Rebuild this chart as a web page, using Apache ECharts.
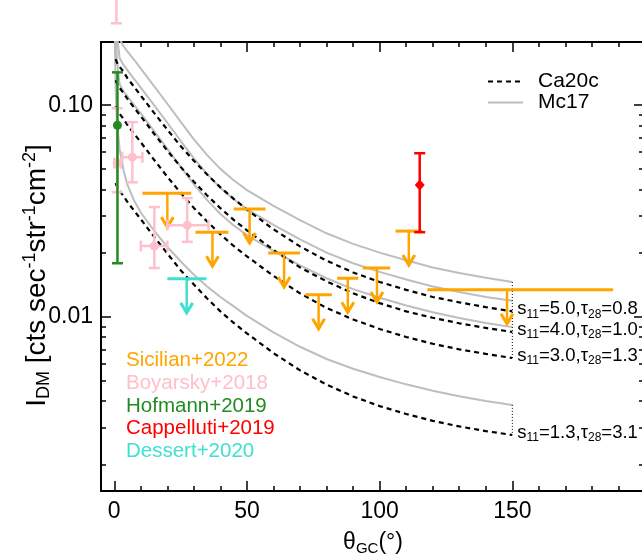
<!DOCTYPE html>
<html>
<head>
<meta charset="UTF-8">
<title>I_DM vs theta_GC</title>
<script src="https://cdn.jsdelivr.net/npm/echarts@6/dist/echarts.min.js"></script>
</head>
<body style="margin:0;background:#ffffff">
<div id="main" style="width:642px;height:555px;"></div>
<script>
var FONT = 'Liberation Sans, Arial, sans-serif';

// model curves (theta in deg, intensity)
var mcTheta = [0.2, 0.5, 1, 2, 3.5, 5, 7.5, 10, 15, 20, 25, 30, 35, 40, 45, 50, 60, 70, 80, 90, 100, 110, 120, 130, 140, 150];
var mc1 = [0.731, 0.384, 0.265, 0.206, 0.190, 0.179, 0.164, 0.149, 0.123, 0.1016, 0.0836, 0.0690, 0.0581, 0.0500, 0.0442, 0.0397, 0.0334, 0.0286, 0.0248, 0.0221, 0.0201, 0.0185, 0.0171, 0.0161, 0.0153, 0.0146];
var mc2 = [0.594, 0.312, 0.216, 0.167, 0.155, 0.146, 0.133, 0.121, 0.1002, 0.0826, 0.0679, 0.0561, 0.0472, 0.0406, 0.0359, 0.0323, 0.0272, 0.0232, 0.0201, 0.0179, 0.0163, 0.0150, 0.0139, 0.0131, 0.0124, 0.0119];
var mc3 = [0.448, 0.235, 0.163, 0.126, 0.116, 0.110, 0.1002, 0.0914, 0.0755, 0.0622, 0.0512, 0.0423, 0.0356, 0.0306, 0.0270, 0.0243, 0.0205, 0.0175, 0.0152, 0.0135, 0.0123, 0.0113, 0.0105, 0.00986, 0.00935, 0.00893];
var mc4 = [0.215, 0.121, 0.0838, 0.0621, 0.0493, 0.0420, 0.0353, 0.0311, 0.0255, 0.0214, 0.0183, 0.0158, 0.0139, 0.0124, 0.0112, 0.0101, 0.00843, 0.00721, 0.00631, 0.00568, 0.00519, 0.00479, 0.00447, 0.00421, 0.00400, 0.00383];

var caTheta = [0.5, 1, 2, 3.5, 5, 7.5, 10, 15, 20, 25, 30, 35, 40, 45, 50, 60, 70, 80, 90, 100, 110, 120, 130, 140, 150];
var ca1 = [0.165, 0.159, 0.152, 0.144, 0.134, 0.122, 0.111, 0.0920, 0.0766, 0.0641, 0.0546, 0.0470, 0.0409, 0.0361, 0.0321, 0.0259, 0.0215, 0.0184, 0.0162, 0.0146, 0.0134, 0.0124, 0.0117, 0.0111, 0.0106];
var ca2 = [0.131, 0.127, 0.121, 0.114, 0.107, 0.0973, 0.0887, 0.0733, 0.0610, 0.0511, 0.0435, 0.0374, 0.0326, 0.0287, 0.0256, 0.0207, 0.0171, 0.0147, 0.0129, 0.0116, 0.0106, 0.00989, 0.00931, 0.00885, 0.00847];
var ca3 = [0.0989, 0.0955, 0.0912, 0.0861, 0.0804, 0.0733, 0.0668, 0.0552, 0.0459, 0.0385, 0.0327, 0.0282, 0.0245, 0.0216, 0.0193, 0.0156, 0.0129, 0.0110, 0.00971, 0.00875, 0.00802, 0.00745, 0.00701, 0.00667, 0.00638];
var ca4 = [0.0428, 0.0413, 0.0394, 0.0372, 0.0348, 0.0317, 0.0289, 0.0239, 0.0199, 0.0166, 0.0142, 0.0122, 0.0106, 0.00935, 0.00834, 0.00673, 0.00558, 0.00478, 0.00420, 0.00378, 0.00347, 0.00322, 0.00303, 0.00288, 0.00276];
var caS11 = ['5.0', '4.0', '3.0', '1.3'];
var caTau28 = ['0.8', '1.0', '1.3', '3.1'];

// Sicilian+2022 upper limits
var sicTheta = [20, 37, 51, 64, 77, 88, 99, 111, 148];
var sicLo = [10.6, 30.6, 45, 58, 72, 84, 93.6, 106, 118];
var sicHi = [29, 43, 57, 70, 82, 92, 104, 116, 188];
var sicUL = [0.0384, 0.0251, 0.0323, 0.0200, 0.0127, 0.0152, 0.0170, 0.0254, 0.0134];

// Boyarsky+2018: theta, I, I_lo, I_hi, theta_lo, theta_hi
var boyTheta = [0.8, 1.1, 6.8, 15.1, 27.5];
var boyI = [0.40, 0.0532, 0.0568, 0.0216, 0.0271];
var boyILo = [0.244, 0.0388, 0.0432, 0.0170, 0.0226];
var boyIHi = [0.60, 0.0968, 0.0832, 0.0330, 0.0364];
var boyTLo = [0.8, 0, 3, 10, 20];
var boyTHi = [0.8, 2.5, 10.6, 20, 35.5];

// Hofmann+2019
var hofTheta = [1.2], hofI = [0.0804], hofILo = [0.0179], hofIHi = [0.143];
// Cappelluti+2019
var capTheta = [115.1], capI = [0.0419], capILo = [0.0251], capIHi = [0.0593];
// Dessert+2020 upper limit
var desTheta = [27.3], desLo = [20], desHi = [34.7], desUL = [0.0151];

var xMajor = [0, 50, 100, 150, 200];
var xLabels = [0, 50, 100, 150];
var xMinor = [10, 20, 30, 40, 60, 70, 80, 90, 110, 120, 130, 140, 160, 170, 180, 190];
var yMajor = [0.01, 0.1];
var yMinor = [0.002, 0.003, 0.004, 0.005, 0.006, 0.007, 0.008, 0.009, 0.02, 0.03, 0.04, 0.05, 0.06, 0.07, 0.08, 0.09];

var dataNames = ['Sicilian+2022', 'Boyarsky+2018', 'Hofmann+2019', 'Cappelluti+2019', 'Dessert+2020'];
var dataColors = ['#FFA500', '#FFC0CB', '#228B22', '#FF0000', '#40E0D0'];

var X_MIN = -5, X_MAX = 200, Y_MIN = 0.0015, Y_MAX = 0.199;

function zip(xs, ys) { return xs.map(function (x, i) { return [x, ys[i]]; }); }

function limitItem(color) {
  return function (params, api) {
    var c = api.coord([api.value(0), api.value(3)]);
    var a = api.coord([api.value(1), api.value(3)]);
    var b = api.coord([api.value(2), api.value(3)]);
    var tip = c[1] + 34;
    return {
      type: 'group',
      children: [
        { type: 'line', shape: { x1: a[0], y1: a[1], x2: b[0], y2: b[1] }, style: { stroke: color, lineWidth: 3 } },
        { type: 'line', shape: { x1: c[0], y1: c[1], x2: c[0], y2: tip - 1 }, style: { stroke: color, lineWidth: 2.5 } },
        { type: 'polyline', shape: { points: [[c[0] - 6, tip - 10], [c[0], tip], [c[0] + 6, tip - 10]] },
          style: { stroke: color, lineWidth: 3, fill: null } }
      ]
    };
  };
}

function errItem(color, marker) {
  return function (params, api) {
    var x = api.value(0), y = api.value(1);
    var p = api.coord([x, y]);
    var lo = api.coord([x, api.value(2)]), hi = api.coord([x, api.value(3)]);
    var l = api.coord([api.value(4), y]), r = api.coord([api.value(5), y]);
    var s = { stroke: color, lineWidth: 2.5 };
    var cap = 5.5;
    var kids = [
      { type: 'line', shape: { x1: p[0], y1: lo[1], x2: p[0], y2: hi[1] }, style: s },
      { type: 'line', shape: { x1: p[0] - cap, y1: lo[1], x2: p[0] + cap, y2: lo[1] }, style: s },
      { type: 'line', shape: { x1: p[0] - cap, y1: hi[1], x2: p[0] + cap, y2: hi[1] }, style: s }
    ];
    if (r[0] - l[0] > 1) {
      kids.push(
        { type: 'line', shape: { x1: l[0], y1: p[1], x2: r[0], y2: p[1] }, style: s },
        { type: 'line', shape: { x1: l[0], y1: p[1] - cap, x2: l[0], y2: p[1] + cap }, style: s },
        { type: 'line', shape: { x1: r[0], y1: p[1] - cap, x2: r[0], y2: p[1] + cap }, style: s });
    }
    if (marker === 'diamond') {
      kids.push({ type: 'polygon', shape: { points: [[p[0], p[1] - 5.5], [p[0] + 5, p[1]], [p[0], p[1] + 5.5], [p[0] - 5, p[1]]] }, style: { fill: color } });
    } else {
      kids.push({ type: 'circle', shape: { cx: p[0], cy: p[1], r: 4.5 }, style: { fill: color } });
    }
    return { type: 'group', children: kids };
  };
}

function errData(t, v, vlo, vhi, tlo, thi) {
  return t.map(function (x, i) {
    return [x, v[i], vlo[i], vhi[i], tlo ? tlo[i] : x, thi ? thi[i] : x];
  });
}

function xAxisDef(pos, ticks, len, withLine, withLabels) {
  var ax = {
    type: 'value', min: X_MIN, max: X_MAX, position: pos,
    axisLine: { show: withLine, onZero: false, lineStyle: { color: '#000', width: 2 } },
    axisTick: { show: true, inside: true, length: len, customValues: ticks, lineStyle: { color: '#000', width: 1.5 } },
    axisLabel: { show: false },
    splitLine: { show: false }
  };
  if (withLabels) {
    ax.axisLabel = { show: true, customValues: xLabels, margin: 9, color: '#000', fontSize: 23, fontFamily: FONT };
    ax.name = '\u03b8{sub|GC}(\u00b0)';
    ax.nameLocation = 'middle';
    ax.nameGap = 39;
    ax.nameMoveOverlap = false;
    ax.nameTextStyle = {
      color: '#000', fontSize: 23, fontFamily: FONT, lineHeight: 26,
      rich: { sub: { fontSize: 15, fontFamily: FONT, color: '#000', lineHeight: 12, verticalAlign: 'bottom' } }
    };
  }
  return ax;
}

function yAxisDef(pos, ticks, len, withLine, withLabels) {
  var ax = {
    type: 'log', logBase: 10, min: Y_MIN, max: Y_MAX, position: pos,
    axisLine: { show: withLine, onZero: false, lineStyle: { color: '#000', width: 2 } },
    axisTick: { show: true, inside: true, length: len, customValues: ticks, lineStyle: { color: '#000', width: 1.5 } },
    axisLabel: { show: false },
    splitLine: { show: false }
  };
  if (withLabels) {
    ax.axisLabel = {
      show: true, customValues: yMajor, margin: 8, color: '#000', fontSize: 23, fontFamily: FONT,
      formatter: function (v) { return Number(v).toFixed(2); }
    };
    ax.name = 'I{sub|DM} [cts sec{sup|-1}str{sup|-1}cm{sup|-2}]';
    ax.nameLocation = 'middle';
    ax.nameGap = 48;
    ax.nameMoveOverlap = false;
    ax.nameTextStyle = {
      color: '#000', fontSize: 28, fontFamily: FONT, lineHeight: 32, padding: [0, 18, 0, 0],
      rich: {
        sub: { fontSize: 18, fontFamily: FONT, color: '#000', lineHeight: 15, verticalAlign: 'bottom' },
        sup: { fontSize: 18, fontFamily: FONT, color: '#000', lineHeight: 15, verticalAlign: 'top' }
      }
    };
  }
  return ax;
}

var series = [];
[mc1, mc2, mc3, mc4].forEach(function (arr) {
  series.push({
    type: 'line', name: 'Mc17', data: zip(mcTheta, arr), symbol: 'none', smooth: false, z: 2,
    lineStyle: { color: '#BEBEBE', width: 2 }, itemStyle: { color: '#BEBEBE' }
  });
});
[ca1, ca2, ca3, ca4].forEach(function (arr, k) {
  series.push({
    type: 'line', name: 'Ca20c', data: zip(caTheta, arr), symbol: 'none', smooth: false, z: 3,
    lineStyle: { color: '#000', width: 2.2, type: [5, 4] }, itemStyle: { color: '#000' },
    endLabel: {
      show: true, distance: 5, offset: [0, -2],
      formatter: 's{sub|11}=' + caS11[k] + ',\u03c4{sub|28}=' + caTau28[k],
      color: '#000', fontSize: 18.5, fontFamily: FONT, lineHeight: 22,
      rich: { sub: { fontSize: 12, fontFamily: FONT, color: '#000', lineHeight: 11, verticalAlign: 'bottom' } }
    }
  });
});
// dotted connectors at the end of the model curves
[[mc1, ca3], [mc4, ca4]].forEach(function (pair) {
  var a = pair[0], b = pair[1];
  series.push({
    type: 'line', name: 'link', symbol: 'none', z: 3, silent: true,
    data: [[mcTheta[mcTheta.length - 1], a[a.length - 1]], [caTheta[caTheta.length - 1], b[b.length - 1]]],
    lineStyle: { color: '#000', width: 1, type: [1, 2] }
  });
});

series.push({
  type: 'custom', name: 'Sicilian+2022', z: 5, itemStyle: { color: dataColors[0] },
  renderItem: limitItem(dataColors[0]), encode: { x: 0, y: 3 },
  data: sicTheta.map(function (t, i) { return [t, sicLo[i], sicHi[i], sicUL[i]]; })
});
series.push({
  type: 'custom', name: 'Boyarsky+2018', z: 5, itemStyle: { color: dataColors[1] },
  renderItem: errItem(dataColors[1], 'circle'), encode: { x: 0, y: 1 },
  data: errData(boyTheta, boyI, boyILo, boyIHi, boyTLo, boyTHi)
});
series.push({
  type: 'custom', name: 'Hofmann+2019', z: 6, itemStyle: { color: dataColors[2] },
  renderItem: errItem(dataColors[2], 'circle'), encode: { x: 0, y: 1 },
  data: errData(hofTheta, hofI, hofILo, hofIHi)
});
series.push({
  type: 'custom', name: 'Cappelluti+2019', z: 6, itemStyle: { color: dataColors[3] },
  renderItem: errItem(dataColors[3], 'diamond'), encode: { x: 0, y: 1 },
  data: errData(capTheta, capI, capILo, capIHi)
});
series.push({
  type: 'custom', name: 'Dessert+2020', z: 6, itemStyle: { color: dataColors[4] },
  renderItem: limitItem(dataColors[4]), encode: { x: 0, y: 3 },
  data: desTheta.map(function (t, i) { return [t, desLo[i], desHi[i], desUL[i]]; })
});

var chart = echarts.init(document.getElementById('main'), null, { renderer: 'canvas' });
chart.setOption({
  animation: false,
  backgroundColor: '#ffffff',
  grid: { left: 101, right: -3, top: 42, bottom: 64, containLabel: false, outerBoundsMode: 'none' },
  xAxis: [
    xAxisDef('bottom', xMajor, 10, true, true),
    xAxisDef('bottom', xMinor, 5, false, false),
    xAxisDef('top', xMajor, 10, true, false),
    xAxisDef('top', xMinor, 5, false, false)
  ],
  yAxis: [
    yAxisDef('left', yMajor, 10, true, true),
    yAxisDef('left', yMinor, 5, false, false),
    yAxisDef('right', yMajor, 11, true, false),
    yAxisDef('right', yMinor, 6, false, false)
  ],
  legend: [
    {
      orient: 'vertical', left: 121, top: 350, padding: 0, itemWidth: 0, itemHeight: 0, itemGap: 1.7,
      selectedMode: false, icon: 'rect',
      textStyle: { fontFamily: FONT, fontSize: 20.5, lineHeight: 20 },
      data: dataNames.map(function (n, i) { return { name: n, textStyle: { color: dataColors[i] } }; })
    },
    {
      orient: 'vertical', left: 487, top: 71, padding: 0, itemWidth: 35, itemHeight: 10, itemGap: 0,
      selectedMode: false,
      itemStyle: { opacity: 0, color: 'transparent', borderWidth: 0 },
      textStyle: { fontFamily: FONT, fontSize: 21, lineHeight: 20, color: '#000', padding: [0, 0, 0, 10] },
      data: ['Ca20c', 'Mc17']
    }
  ],
  series: series
});
</script>
</body>
</html>
